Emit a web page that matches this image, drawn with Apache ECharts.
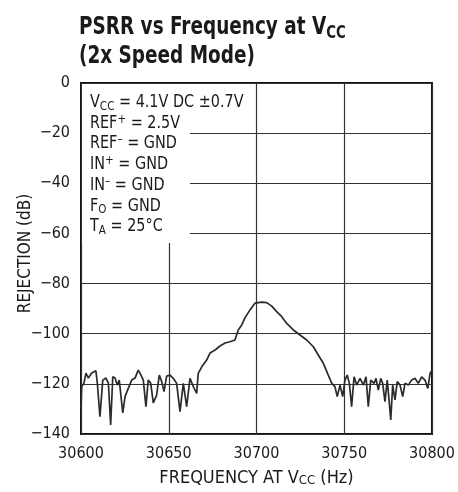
<!DOCTYPE html>
<html>
<head>
<meta charset="utf-8">
<script src="https://cdn.jsdelivr.net/npm/echarts@6/dist/echarts.min.js"></script>
<style>
  html, body { margin: 0; padding: 0; background: #fff; }
  #chart { width: 458px; height: 492px; }
</style>
</head>
<body>
<div id="chart"></div>
<script>
// Supply-rejection sweep around the 30.7 kHz conversion rate
const freqHz = [
  30600.0, 30600.4, 30601.7, 30602.8, 30604.2, 30606.1, 30608.5, 30609.3, 30610.8, 30612.4,
  30614.2, 30615.6, 30616.9, 30618.1, 30619.4, 30620.7, 30621.8, 30623.8, 30625.1, 30627.0,
  30628.9, 30630.8, 30632.6, 30634.2, 30635.5, 30637.0, 30638.3, 30639.7, 30641.2, 30643.1,
  30644.6, 30646.0, 30647.3, 30648.8, 30650.7, 30652.6, 30654.5, 30656.4, 30658.3, 30660.2,
  30662.1, 30664.0, 30665.9, 30666.8, 30668.8, 30671.6, 30673.5, 30676.4, 30679.2, 30682.1,
  30684.9, 30687.7, 30689.6, 30691.6, 30693.4, 30696.3, 30699.1, 30701.0, 30703.1, 30705.8,
  30708.7, 30711.5, 30714.4, 30717.2, 30721.0, 30724.8, 30728.6, 30732.4, 30735.2, 30738.1,
  30740.9, 30742.9, 30744.7, 30746.0, 30747.6, 30749.1, 30750.4, 30751.7, 30752.9, 30754.2,
  30755.6, 30757.1, 30759.0, 30760.9, 30762.4, 30763.7, 30765.1, 30767.0, 30768.1, 30769.4,
  30770.8, 30771.9, 30773.2, 30774.5, 30775.7, 30776.5, 30777.6, 30778.9, 30780.2, 30781.8,
  30783.3, 30784.6, 30786.5, 30788.4, 30790.3, 30792.2, 30794.1, 30796.0, 30797.6, 30798.9,
  30800.0
];
const rejectionDb = [
  -130.0, -121.1, -119.7, -115.7, -117.7, -115.7, -114.8, -119.7, -133.1, -118.5,
  -117.7, -119.7, -136.4, -117.2, -117.7, -120.5, -118.5, -131.6, -125.1, -121.7,
  -118.5, -117.7, -114.5, -116.5, -118.5, -129.1, -118.5, -119.7, -127.6, -124.5,
  -116.5, -119.1, -123.1, -116.9, -116.5, -117.8, -119.8, -131.1, -119.8, -129.1,
  -117.8, -121.1, -123.8, -115.8, -113.2, -110.5, -107.7, -106.5, -104.9, -103.7,
  -103.2, -102.5, -98.5, -96.5, -93.7, -90.5, -87.8, -87.6, -87.4, -87.6,
  -89.0, -91.2, -93.2, -95.9, -98.5, -100.5, -102.5, -105.2, -108.5, -111.8,
  -116.5, -119.8, -121.1, -125.1, -120.5, -125.1, -118.5, -116.5, -119.8, -129.1,
  -117.2, -120.5, -117.8, -120.5, -117.2, -129.1, -118.5, -119.8, -117.8, -122.5,
  -117.8, -119.8, -127.1, -118.5, -127.8, -134.4, -120.5, -126.4, -119.1, -120.5,
  -125.1, -119.8, -120.5, -118.5, -117.8, -119.8, -117.2, -118.5, -121.8, -115.8,
  -114.5
];

// Axis ranges and tick spacing
const xRange = [30600, 30800], xStep = 50;
const yRange = [-140, 0], yStep = 20;

// Chart heading
const titleLines = [
  '{b|PSRR vs Frequency at V}{bs|CC}',
  '{b|(2x Speed Mode)}'
];

// Test-condition block shown in the upper-left corner
const conditionLines = [
  'V{sub|CC} = 4.1V DC \u00B10.7V',
  'REF{sup|+} = 2.5V',
  'REF{sup|\u2013} = GND',
  'IN{sup|+} = GND',
  'IN{sup|\u2013} = GND',
  'F{sub|O} = GND',
  'T{sub|A} = 25\u00B0C'
];

const FONT = '"DejaVu Sans Condensed", "DejaVu Sans", sans-serif';
const INK = '#1a1a1a';

const chart = echarts.init(document.getElementById('chart'), null, { renderer: 'canvas' });

chart.setOption({
  animation: false,
  backgroundColor: '#ffffff',
  grid: {
    left: 81, right: 26, top: 83, bottom: 58,
    outerBoundsMode: 'none',
    containLabel: false,
    show: true, borderColor: '#111', borderWidth: 2, backgroundColor: '#fff'
  },
  xAxis: {
    type: 'value',
    min: xRange[0], max: xRange[1], interval: xStep,
    axisLine: { show: false },
    axisTick: { show: false },
    splitLine: { show: true, lineStyle: { color: '#333', width: 1.2 } },
    axisLabel: {
      fontFamily: FONT, fontSize: 16, color: INK, margin: 12,
      formatter: v => String(v)
    },
    name: 'FREQUENCY AT V{s|CC} (Hz)',
    nameLocation: 'middle',
    nameGap: 35,
    nameMoveOverlap: false,
    nameTextStyle: {
      fontFamily: FONT, fontSize: 18, color: INK,
      rich: {
        s: { fontFamily: FONT, fontSize: 13, color: INK, verticalAlign: 'bottom', lineHeight: 13 }
      }
    }
  },
  yAxis: {
    type: 'value',
    min: yRange[0], max: yRange[1], interval: yStep,
    axisLabel: {
      fontFamily: FONT, fontSize: 16, color: INK, margin: 11,
      formatter: v => String(v).replace('-', '\u2212')
    },
    axisLine: { show: false },
    axisTick: { show: false },
    splitLine: { show: true, lineStyle: { color: '#333', width: 1.2 } },
    name: 'REJECTION (dB)',
    nameLocation: 'middle',
    nameGap: 47,
    nameRotate: 90,
    nameMoveOverlap: false,
    nameTextStyle: { fontFamily: FONT, fontSize: 17, color: INK, padding: [0, 0, 0, 10] }
  },
  graphic: [
    {
      type: 'text',
      z: 11,
      x: 79,
      y: 13,
      scaleX: 0.82,
      style: {
        text: titleLines.join('\n'),
        fill: INK,
        rich: {
          b: { fontFamily: FONT, fontWeight: 'bold', fontSize: 25, fill: INK, lineHeight: 29 },
          bs: { fontFamily: FONT, fontWeight: 'bold', fontSize: 18, fill: INK, lineHeight: 22, verticalAlign: 'bottom' }
        }
      }
    },
    {
      type: 'rect',
      z: 10,
      shape: { x: 82, y: 84, width: 108, height: 159 },
      style: { fill: '#fff' }
    },
    {
      type: 'text',
      z: 11,
      x: 90,
      y: 92,
      scaleX: 0.89,
      style: {
        text: conditionLines.join('\n'),
        fontFamily: FONT,
        fontSize: 18,
        lineHeight: 20.7,
        fill: INK,
        rich: {
          sub: { fontFamily: FONT, fontSize: 13, fill: INK, verticalAlign: 'bottom', lineHeight: 12 },
          sup: { fontFamily: FONT, fontSize: 13, fill: INK, verticalAlign: 'top', lineHeight: 13 }
        }
      }
    }
  ],
  series: [
    {
      type: 'line',
      data: freqHz.map((f, i) => [f, rejectionDb[i]]),
      showSymbol: false,
      smooth: false,
      lineStyle: { color: '#2b2b2b', width: 1.7 },
      z: 3
    }
  ]
});
</script>
</body>
</html>
